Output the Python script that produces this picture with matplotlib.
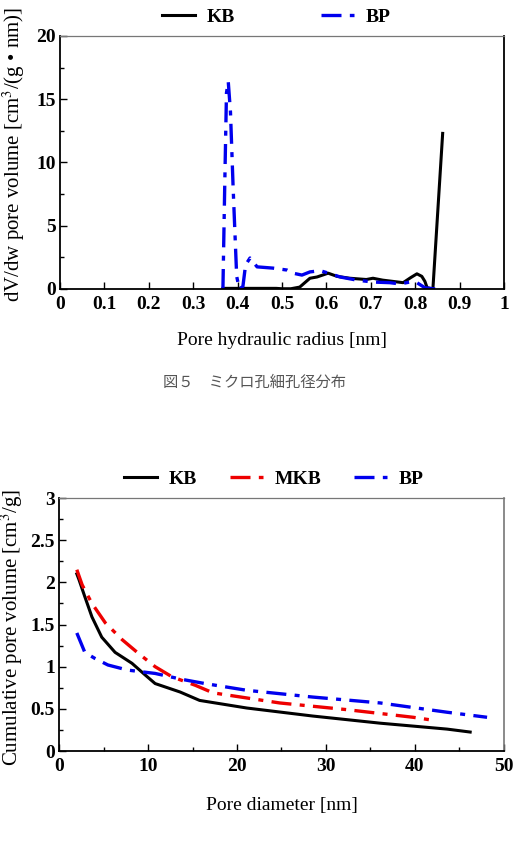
import matplotlib
matplotlib.use("Agg")
import matplotlib.pyplot as plt
from matplotlib.ticker import MultipleLocator

plt.rcParams['font.family'] = ['Liberation Serif', 'Noto Sans CJK JP', 'DejaVu Sans']
plt.rcParams['mathtext.fontset'] = 'stix'

# ---- Top chart: micropore distribution ----
kb_r = [0.367, 0.40, 0.45, 0.487, 0.50, 0.52, 0.54, 0.563, 0.579, 0.604, 0.624, 0.653,
        0.69, 0.705, 0.727, 0.75, 0.773, 0.79, 0.804, 0.815, 0.822, 0.827, 0.84, 0.862]
kb_v = [0.05, 0.05, 0.05, 0.05, 0.02, 0.02, 0.15, 0.85, 0.95, 1.25, 1.0, 0.85,
        0.75, 0.85, 0.7, 0.6, 0.5, 0.9, 1.2, 1.0, 0.6, 0.1, 0.0, 12.3]
bp_r = [0.367, 0.371, 0.375, 0.379, 0.384, 0.390, 0.398, 0.404, 0.412, 0.418, 0.428,
        0.444, 0.48, 0.511, 0.525, 0.545, 0.563, 0.586, 0.61, 0.631, 0.669, 0.705,
        0.743, 0.766, 0.788, 0.804, 0.822, 0.845]
bp_v = [0.0, 8.0, 15.5, 16.4, 14.0, 8.0, 1.0, 0.0, 0.2, 1.9, 2.45,
        1.75, 1.65, 1.5, 1.25, 1.1, 1.35, 1.45, 1.2, 0.95, 0.7, 0.55,
        0.5, 0.4, 0.55, 0.5, 0.1, 0.0]

# ---- Bottom chart: cumulative pore volume ----
kb_d = [2.0, 2.25, 2.9, 3.7, 4.8, 6.3, 8.2, 9.7, 10.8, 12.2, 13.6, 15.8, 21.1, 28.5, 36.1, 43.6, 46.2]
kb_c = [2.1, 2.03, 1.83, 1.59, 1.35, 1.17, 1.04, 0.9, 0.8, 0.75, 0.70, 0.6, 0.51, 0.415, 0.33, 0.26, 0.225]
mkb_d = [2.0, 2.6, 3.7, 5.2, 7.1, 8.9, 10.8, 12.7, 15.3, 17.3, 24.8, 32.4, 39.8, 41.7]
mkb_c = [2.15, 1.97, 1.75, 1.52, 1.32, 1.16, 1.0, 0.88, 0.78, 0.69, 0.57, 0.49, 0.40, 0.37]
bp_d = [2.0, 2.9, 4.0, 5.5, 7.7, 10.8, 13.8, 16.4, 21.1, 28.5, 36.1, 43.6, 48.1]
bp_c = [1.40, 1.17, 1.10, 1.02, 0.96, 0.92, 0.85, 0.80, 0.72, 0.64, 0.57, 0.46, 0.40]

caption = "図５　ミクロ孔細孔径分布"

fig = plt.figure(figsize=(5.15, 8.49), dpi=100)
ax1 = fig.add_axes([0.1165, 0.6596, 0.862, 0.298])
ax2 = fig.add_axes([0.1146, 0.1154, 0.864, 0.298])

dashdot = (0, (6, 2.5, 1.5, 2.5))

ax1.plot(kb_r, kb_v, color='black', lw=2.2, label='KB')
ax1.plot(bp_r, bp_v, color='#0000ee', lw=2.4, ls=dashdot, label='BP')
ax1.set_xlim(0, 1)
ax1.set_ylim(0, 20)
ax1.yaxis.set_major_locator(MultipleLocator(5))
ax1.yaxis.set_minor_locator(MultipleLocator(2.5))
ax1.set_xticks([0, 0.1, 0.2, 0.3, 0.4, 0.5, 0.6, 0.7, 0.8, 0.9, 1])
ax1.set_xticklabels(['0', '0.1', '0.2', '0.3', '0.4', '0.5', '0.6', '0.7', '0.8', '0.9', '1'])
ax1.set_xlabel('Pore hydraulic radius [nm]', fontsize=14, labelpad=14)
ax1.set_ylabel('dV/dw pore volume [cm$^3$/(g • nm)]', fontsize=15, va='center')
ax1.yaxis.set_label_coords(-0.104, 0.53)
ax1.legend(loc='lower center', bbox_to_anchor=(0.487, 1.0), ncol=2, frameon=False,
           prop=dict(size=14, weight='bold'), handlelength=1.7, handletextpad=0.6,
           columnspacing=4.4, borderaxespad=0.1)

ax2.plot(kb_d, kb_c, color='black', lw=2.2, label='KB')
ax2.plot(mkb_d, mkb_c, color='#ee0000', lw=2.4, ls=dashdot, label='MKB')
ax2.plot(bp_d, bp_c, color='#0000ee', lw=2.4, ls=dashdot, label='BP')
ax2.set_xlim(0, 50)
ax2.set_ylim(0, 3)
ax2.xaxis.set_major_locator(MultipleLocator(10))
ax2.xaxis.set_minor_locator(MultipleLocator(5))
ax2.yaxis.set_minor_locator(MultipleLocator(0.25))
ax2.set_yticks([0, 0.5, 1, 1.5, 2, 2.5, 3])
ax2.set_yticklabels(['0', '0.5', '1', '1.5', '2', '2.5', '3'])
ax2.set_xlabel('Pore diameter [nm]', fontsize=14, labelpad=16)
ax2.set_ylabel('Cumulative pore volume [cm$^3$/g]', fontsize=15, va='center')
ax2.yaxis.set_label_coords(-0.106, 0.49)
ax2.legend(loc='lower center', bbox_to_anchor=(0.483, 1.0), ncol=3, frameon=False,
           prop=dict(size=14, weight='bold'), handlelength=1.7, handletextpad=0.6,
           columnspacing=1.7, borderaxespad=0.1)

for ax in (ax1, ax2):
    ax.tick_params(which='both', direction='in', top=False, right=False)
    ax.tick_params(which='major', length=5, width=1)
    ax.tick_params(axis='y', which='major', pad=3)
    ax.tick_params(axis='x', which='major', pad=5)
    ax.tick_params(which='minor', length=3, width=1)
    for lab in ax.get_xticklabels() + ax.get_yticklabels():
        lab.set_fontsize(14)
        lab.set_fontweight('bold')
    ax.spines['left'].set_linewidth(1.3)
    ax.spines['bottom'].set_linewidth(1.3)
    ax.spines['top'].set_color('#777777')
    ax.spines['top'].set_linewidth(0.9)
ax1.spines['right'].set_linewidth(1.3)
ax2.spines['right'].set_color('#777777')
ax2.spines['right'].set_linewidth(1.2)

fig.text(0.495, 1 - 382 / 849, caption, ha='center', va='center', fontsize=11,
         color='#555555', family=['Noto Sans CJK JP'])

fig.savefig('out.png', dpi=100)
